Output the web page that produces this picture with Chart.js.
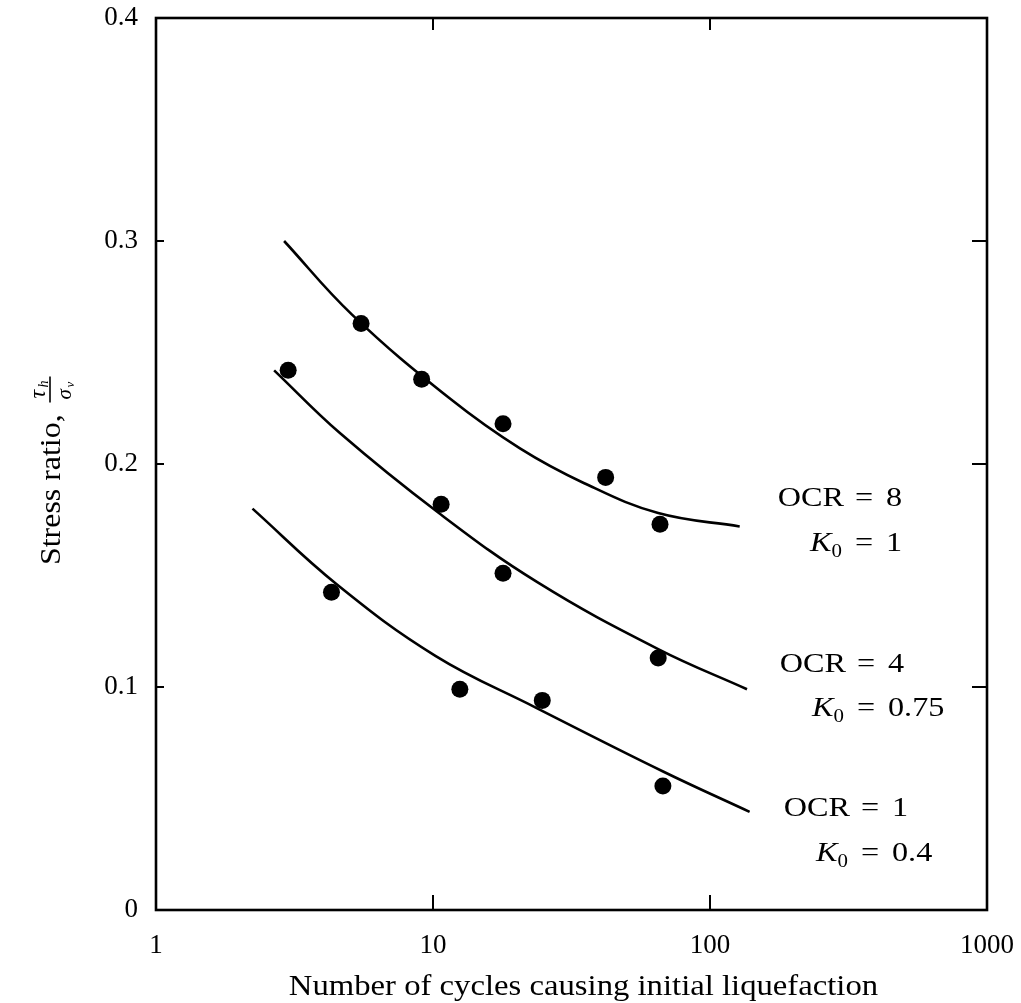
<!DOCTYPE html>
<html>
<head>
<meta charset="utf-8">
<title>Stress ratio vs number of cycles causing initial liquefaction</title>
<script src="https://cdn.jsdelivr.net/npm/chart.js@4.4.1/dist/chart.umd.min.js"></script>
<style>
  html, body { margin: 0; padding: 0; background: #fff; }
  #wrap { width: 1021px; height: 1003px; }
</style>
</head>
<body>
<div id="wrap"><canvas id="chart" width="1021" height="1003"></canvas></div>
<script>
// ---------------------------------------------------------------
// Data
// ---------------------------------------------------------------
const xTicks = [1, 10, 100, 1000];
const yTicks = [0, 0.1, 0.2, 0.3, 0.4];

// OCR = 8, K0 = 1
const ocr8TestN = [5.5, 9.1, 17.9, 42, 66];
const ocr8TestRatio = [0.263, 0.238, 0.218, 0.194, 0.173];
const ocr8CurveN = [2.9, 5.1, 11.6, 20.6, 35, 65, 128];
const ocr8CurveRatio = [0.300, 0.267, 0.229, 0.207, 0.1915, 0.178, 0.172];

// OCR = 4, K0 = 0.75
const ocr4TestN = [3.0, 10.7, 17.9, 65];
const ocr4TestRatio = [0.242, 0.182, 0.151, 0.113];
const ocr4CurveN = [2.67, 4.6, 10.5, 23.8, 65, 136];
const ocr4CurveRatio = [0.242, 0.214, 0.178, 0.147, 0.117, 0.099];

// OCR = 1, K0 = 0.4
const ocr1TestN = [4.3, 12.5, 24.8, 67.6];
const ocr1TestRatio = [0.1425, 0.099, 0.094, 0.0556];
const ocr1CurveN = [2.23, 4.5, 10.2, 23.3, 68, 139];
const ocr1CurveRatio = [0.180, 0.146, 0.114, 0.091, 0.062, 0.044];

// curve labels (top to bottom)
const ocrValues = ['8', '4', '1'];
const k0Values = ['1', '0.75', '0.4'];

const xTitle = 'Number of cycles causing initial liquefaction';
const yTitle = 'Stress ratio,';

// ---------------------------------------------------------------
// Styling / layout
// ---------------------------------------------------------------
const SERIF = "'Liberation Serif', 'DejaVu Serif', serif";
const INK = '#000';
const AREA = { left: 156, top: 18, right: 987, bottom: 910 };
const STRETCH = 1.1; // book face is a little wider than Times

function pairs(xs, ys) {
    return xs.map((x, i) => ({ x: x, y: ys[i] }));
}

function curve(xs, ys) {
    return {
        type: 'line', data: pairs(xs, ys), borderColor: INK, borderWidth: 2.6,
        pointRadius: 0, fill: false, tension: 0.4, order: 2
    };
}

function dots(xs, ys) {
    return {
        type: 'scatter', data: pairs(xs, ys), backgroundColor: INK, borderColor: INK,
        borderWidth: 0, pointRadius: 8.5, showLine: false, order: 1
    };
}

// text with a horizontal stretch, anchored by align at (x, y) on the baseline
function stretchText(ctx, text, x, y, font, align, sx) {
    ctx.save();
    ctx.font = font;
    ctx.textBaseline = 'alphabetic';
    ctx.textAlign = 'left';
    const w = ctx.measureText(text).width * sx;
    let x0 = x;
    if (align === 'center') x0 = x - w / 2;
    if (align === 'right') x0 = x - w;
    ctx.translate(x0, y);
    ctx.scale(sx, 1);
    ctx.fillText(text, 0, 0);
    ctx.restore();
    return w;
}

// "OCR = n" / "K0 = v" blocks beside each curve
function drawCurveLabels(ctx) {
    const rows = [
        { eq: 864, ocrY: 506, kY: 551 },
        { eq: 866, ocrY: 672, kY: 716 },
        { eq: 870, ocrY: 816, kY: 861 }
    ];
    const roman = '28px ' + SERIF;
    const italic = 'italic 28px ' + SERIF;
    const sub = '19px ' + SERIF;
    ctx.fillStyle = INK;
    rows.forEach((r, i) => {
        // OCR = n
        stretchText(ctx, 'OCR', r.eq - 20, r.ocrY, roman, 'right', 1.15);
        stretchText(ctx, '=', r.eq, r.ocrY, roman, 'center', 1.15);
        stretchText(ctx, ocrValues[i], r.eq + 22, r.ocrY, roman, 'left', 1.15);
        // K0 = v
        ctx.save();
        ctx.font = sub;
        const subW = ctx.measureText('0').width * 1.1;
        ctx.restore();
        stretchText(ctx, '0', r.eq - 22, r.kY + 6, sub, 'right', 1.1);
        stretchText(ctx, 'K', r.eq - 22 - subW, r.kY, italic, 'right', 1.15);
        stretchText(ctx, '=', r.eq, r.kY, roman, 'center', 1.15);
        stretchText(ctx, k0Values[i], r.eq + 22, r.kY, roman, 'left', 1.15);
    });
}

const framePlugin = {
    id: 'frame',
    afterDraw(chart) {
        const { ctx, chartArea: a, scales } = chart;
        ctx.save();
        ctx.strokeStyle = INK;
        ctx.lineWidth = 2.6;
        ctx.strokeRect(a.left, a.top, a.right - a.left, a.bottom - a.top);

        // inward tick marks
        ctx.lineWidth = 2;
        ctx.beginPath();
        xTicks.slice(1, -1).forEach(v => {
            const px = scales.x.getPixelForValue(v);
            ctx.moveTo(px, a.bottom); ctx.lineTo(px, a.bottom - 15);
            ctx.moveTo(px, a.top); ctx.lineTo(px, a.top + 12);
        });
        yTicks.slice(1, -1).forEach(v => {
            const py = scales.y.getPixelForValue(v);
            ctx.moveTo(a.left, py); ctx.lineTo(a.left + 8, py);
            ctx.moveTo(a.right, py); ctx.lineTo(a.right - 15, py);
        });
        ctx.stroke();

        ctx.fillStyle = INK;
        // x title
        stretchText(ctx, xTitle, (a.left + a.right) / 2 + 12, 995, '30px ' + SERIF, 'center', 1.09);

        // y title, rotated, with the tau_h / sigma_v fraction
        ctx.save();
        ctx.translate(60, 565);
        ctx.rotate(-Math.PI / 2);
        const w = stretchText(ctx, yTitle, 0, 0, '29px ' + SERIF, 'left', STRETCH);
        const fx = w + 12;
        ctx.lineWidth = 1.6;
        ctx.beginPath();
        ctx.moveTo(fx, -10); ctx.lineTo(fx + 26, -10);
        ctx.stroke();
        stretchText(ctx, 'τ', fx + 4, -15, 'italic 24px ' + SERIF, 'left', 1);
        stretchText(ctx, 'h', fx + 15, -12, 'italic 14px ' + SERIF, 'left', 1);
        stretchText(ctx, 'σ', fx + 3, 11, 'italic 21px ' + SERIF, 'left', 1);
        stretchText(ctx, 'v', fx + 15, 14, 'italic 13px ' + SERIF, 'left', 1);
        ctx.restore();

        drawCurveLabels(ctx);
        ctx.restore();
    }
};

const canvas = document.getElementById('chart');

new Chart(canvas, {
    data: {
        datasets: [
            curve(ocr8CurveN, ocr8CurveRatio),
            curve(ocr4CurveN, ocr4CurveRatio),
            curve(ocr1CurveN, ocr1CurveRatio),
            dots(ocr8TestN, ocr8TestRatio),
            dots(ocr4TestN, ocr4TestRatio),
            dots(ocr1TestN, ocr1TestRatio)
        ]
    },
    options: {
        responsive: false,
        animation: false,
        layout: {
            padding: { left: 0, top: AREA.top, right: 1021 - AREA.right, bottom: 0 }
        },
        plugins: {
            legend: { display: false },
            tooltip: { enabled: false }
        },
        scales: {
            x: {
                type: 'logarithmic',
                min: 1,
                max: 1000,
                afterBuildTicks: s => { s.ticks = xTicks.map(v => ({ value: v })); },
                afterFit: s => {
                    s.height = 1003 - AREA.bottom;
                    s.paddingLeft = 0;
                    s.paddingRight = 0;
                },
                grid: { display: false, drawTicks: false },
                border: { display: false },
                ticks: {
                    autoSkip: false,
                    maxRotation: 0,
                    padding: 20,
                    color: INK,
                    font: { family: SERIF, size: 27 },
                    callback: v => String(v)
                }
            },
            y: {
                type: 'linear',
                min: 0,
                max: 0.4,
                afterBuildTicks: s => { s.ticks = yTicks.map(v => ({ value: v })); },
                afterFit: s => {
                    s.width = AREA.left;
                    s.paddingTop = 0;
                    s.paddingBottom = 0;
                },
                grid: { display: false, drawTicks: false },
                border: { display: false },
                ticks: {
                    padding: 18,
                    color: INK,
                    font: { family: SERIF, size: 27 },
                    callback: v => (v === 0 ? '0' : v.toFixed(1))
                }
            }
        }
    },
    plugins: [framePlugin]
});
</script>
</body>
</html>
